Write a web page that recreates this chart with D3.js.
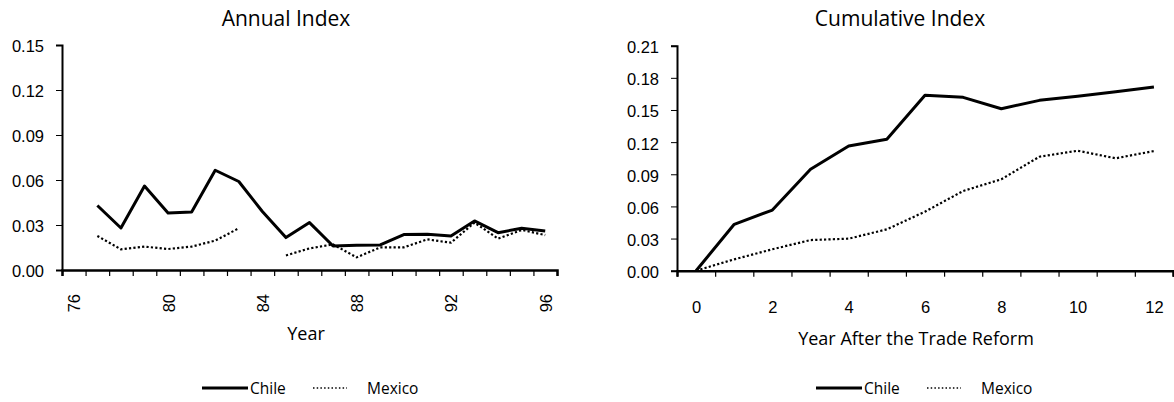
<!DOCTYPE html>
<html>
<head>
<meta charset="utf-8">
<script src="https://cdn.jsdelivr.net/npm/d3@7"></script>
<style>
  body { margin: 0; background: #fff; }
  svg { font-family: "Open Sans", sans-serif; }
  .axis path, .axis line { stroke: #000; }
</style>
</head>
<body>
<div id="chart"></div>
<script>
// Annual index, years 76..96 (null = no value)
var annualYears = d3.range(76, 97);
var annualChile = [null, 0.043, 0.028, 0.056, 0.038, 0.0387, 0.0665, 0.059, 0.039, 0.0216,
  0.0316, 0.016, 0.0165, 0.0167, 0.0236, 0.0238, 0.0227, 0.0327, 0.0249, 0.0278, 0.026];
var annualMexico = [null, 0.0227, 0.0138, 0.0156, 0.014, 0.0156, 0.0196, 0.0278, null, 0.0097,
  0.0144, 0.0171, 0.0084, 0.0151, 0.0151, 0.0204, 0.0182, 0.0316, 0.0209, 0.0267, 0.0233];
var annualYLabels = [0, 0.03, 0.06, 0.09, 0.12, 0.15];
var annualXLabels = [76, 80, 84, 88, 92, 96];

// Cumulative index, years after reform 0..12
var reformYears = d3.range(0, 13);
var cumChile = [0, 0.0433, 0.0566, 0.0946, 0.1164, 0.1226, 0.1637, 0.1618, 0.1512, 0.159, 0.1628, 0.167, 0.1714];
var cumMexico = [0, 0.0106, 0.02, 0.0286, 0.0299, 0.0386, 0.0551, 0.0744, 0.0853, 0.1064, 0.112, 0.1049, 0.1117];
var cumYLabels = [0, 0.03, 0.06, 0.09, 0.12, 0.15, 0.18, 0.21];
var cumXLabels = [0, 2, 4, 6, 8, 10, 12];

var svg = d3.select("#chart").append("svg")
  .attr("width", 1174)
  .attr("height", 402);

function drawPanel(o) {
  var g = svg.append("g");
  var x = d3.scaleLinear().domain([o.xs[0] - 0.5, o.xs[o.xs.length - 1] + 0.5]).range([o.left, o.right]);
  var y = d3.scaleLinear().domain([0, o.yMax]).range([o.bottom, o.top]);

  // y axis
  var ya = g.append("g").attr("class", "axis")
    .attr("transform", "translate(" + o.left + ",0)")
    .call(d3.axisLeft(y).tickValues(o.yLabels).tickFormat(d3.format(".2f")).tickSize(6).tickPadding(12));
  ya.select(".domain").attr("stroke-width", 2);
  ya.selectAll("text").attr("font-size", 16.5).attr("dy", "0.42em").attr("fill", "#000");

  // x axis: tick marks between categories
  var xa = g.append("g").attr("class", "axis")
    .attr("transform", "translate(0," + o.bottom + ")")
    .call(d3.axisBottom(x).tickValues(d3.range(o.xs[0] - 0.5, o.xs[o.xs.length - 1] + 1, 1)).tickFormat("").tickSize(6));
  xa.select(".domain").attr("stroke-width", 2.5);
  xa.selectAll(".tick line").attr("stroke-width", 1.2);

  // x labels
  var xl = g.append("g")
    .attr("transform", "translate(0," + o.bottom + ")")
    .call(d3.axisBottom(x).tickValues(o.xLabels).tickSize(0).tickPadding(o.rotate ? 0 : 31));
  xl.select(".domain").remove();
  xl.selectAll("text").attr("font-size", 16.5).attr("fill", "#000");
  if (o.rotate) {
    xl.selectAll("text")
      .attr("transform", "rotate(-90)")
      .attr("x", -24).attr("y", 0).attr("dy", "0.36em")
      .attr("text-anchor", "end");
  }

  var line = d3.line()
    .defined(function(d) { return d[1] !== null; })
    .x(function(d) { return x(d[0]); })
    .y(function(d) { return y(d[1]); });

  g.append("path")
    .datum(d3.zip(o.xs, o.mexico))
    .attr("fill", "none").attr("stroke", "#000")
    .attr("stroke-width", 2.2).attr("stroke-dasharray", "2.2,2.2")
    .attr("d", line);

  g.append("path")
    .datum(d3.zip(o.xs, o.chile))
    .attr("fill", "none").attr("stroke", "#000")
    .attr("stroke-width", 3).attr("stroke-linejoin", "round")
    .attr("d", line);

  // title and axis title
  g.append("text").attr("x", o.titleX).attr("y", 26)
    .attr("text-anchor", "middle").attr("font-size", 21).text(o.title);
  g.append("text").attr("x", o.xTitleX).attr("y", o.xTitleY)
    .attr("text-anchor", "middle").attr("font-size", 18).text(o.xTitle);

  // legend
  var lg = g.append("g").attr("transform", "translate(" + o.legendX + ",388)");
  lg.append("line").attr("x1", 0).attr("x2", 46).attr("stroke", "#000").attr("stroke-width", 3);
  lg.append("text").attr("x", 48).attr("y", 5.5).attr("font-size", 15.5).text("Chile");
  lg.append("line").attr("x1", 111).attr("x2", 145).attr("stroke", "#000")
    .attr("stroke-width", 1.5).attr("stroke-dasharray", "1.5,2.2");
  lg.append("text").attr("x", 165).attr("y", 5.5).attr("font-size", 15.5).text("Mexico");
}

drawPanel({
  xs: annualYears, chile: annualChile, mexico: annualMexico,
  yMax: 0.15, yLabels: annualYLabels, xLabels: annualXLabels, rotate: true,
  left: 62, right: 557, top: 45, bottom: 270,
  title: "Annual Index", titleX: 286,
  xTitle: "Year", xTitleX: 306, xTitleY: 340,
  legendX: 202
});

drawPanel({
  xs: reformYears, chile: cumChile, mexico: cumMexico,
  yMax: 0.21, yLabels: cumYLabels, xLabels: cumXLabels, rotate: false,
  left: 677, right: 1173, top: 45.7, bottom: 270.7,
  title: "Cumulative Index", titleX: 900,
  xTitle: "Year After the Trade Reform", xTitleX: 916, xTitleY: 345,
  legendX: 816
});
</script>
</body>
</html>
